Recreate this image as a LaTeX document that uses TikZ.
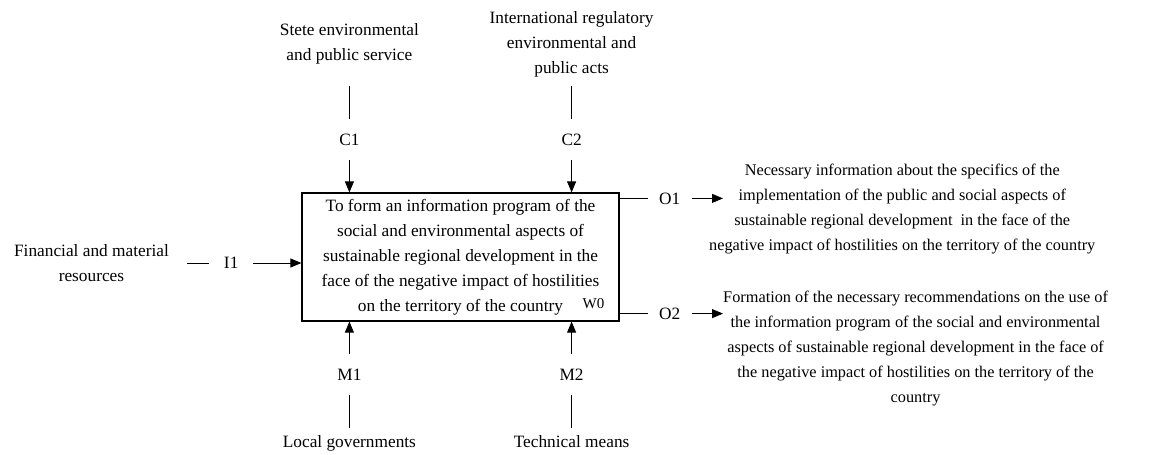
\documentclass[tikz,border=0pt]{standalone}
\usepackage{fontspec}
\setmainfont{Liberation Serif}
\usepackage{tikz}
\usetikzlibrary{arrows.meta,positioning,calc}

\begin{document}
\begin{tikzpicture}[
    x=1pt, y=-1pt,
    font=\fontsize{17.3}{25}\selectfont,
    func/.style={rectangle, draw, line width=1.2pt, minimum width=317pt, minimum height=128pt, align=center, inner sep=0pt},
    txt/.style={align=center, inner sep=0pt},
    outtxt/.style={txt, font=\fontsize{16.3}{25}\selectfont},
    vlbl/.style={inner sep=0pt, minimum height=41pt},
    hlbl/.style={inner sep=0pt, minimum width=44pt},
    line/.style={line width=0.8pt},
    arrow/.style={-{Triangle[length=11pt,width=9pt]}, line width=0.8pt}
]
    \useasboundingbox (0,0) rectangle (1149,455);

    % Function block
    \node[func] (main) at (460.5,257) {To form an information program of the\\social and environmental aspects of\\sustainable regional development in the\\face of the negative impact of hostilities\\on the territory of the country};
    \node[inner sep=0pt, font=\fontsize{15}{18}\selectfont, above left=13pt and 15pt of main.south east] (w0) {W0};

    % Controls
    \node[vlbl, above=32pt of main.north west, xshift=48pt] (c1) {C1};
    \node[vlbl, above=32pt of main.north east, xshift=-48pt] (c2) {C2};
    \node[txt, above=55pt of c1] (stete) {Stete environmental\\and public service};
    \node[txt, above=42pt of c2] (intl) {International regulatory\\environmental and\\public acts};

    % Mechanisms
    \node[vlbl, below=32pt of main.south west, xshift=48pt] (m1) {M1};
    \node[vlbl, below=32pt of main.south east, xshift=-48pt] (m2) {M2};
    \node[txt, below=40pt of m1] (local) {Local governments};
    \node[txt, below=40pt of m2] (techn) {Technical means};

    % Input
    \node[hlbl, left=48pt of main.west, yshift=-6pt] (i1) {I1};
    \node[txt, left=40pt of i1] (fin) {Financial and material\\resources};

    % Outputs
    \node[hlbl, right=28pt of main.north east, yshift=-6pt] (o1) {O1};
    \node[hlbl, right=28pt of main.south east, yshift=8pt] (o2) {O2};
    \node[outtxt, right=17pt of o1, yshift=-11pt] (info) {Necessary information about the specifics of the\\implementation of the public and social aspects of\\sustainable regional development\ \ in the face of the\\negative impact of hostilities on the territory of the country};
    \node[outtxt, right=31pt of o2, yshift=-35pt] (recom) {Formation of the necessary recommendations on the use of\\the information program of the social and environmental\\aspects of sustainable regional development in the face of\\the negative impact of hostilities on the territory of the\\country};

    % Arrows
    \draw[line, shorten <=22pt] (stete) -- (c1);
    \draw[line, shorten <=9pt] (intl) -- (c2);
    \draw[arrow] (c1) -- (c1 |- main.north);
    \draw[arrow] (c2) -- (c2 |- main.north);

    \draw[arrow] (m1) -- (m1 |- main.south);
    \draw[arrow] (m2) -- (m2 |- main.south);
    \draw[line, shorten >=7pt] (m1) -- (local);
    \draw[line, shorten >=7pt] (m2) -- (techn);

    \draw[line, shorten <=18pt] (fin.east |- i1) -- (i1);
    \draw[arrow] (i1) -- (i1 -| main.west);

    \draw[line] (o1 -| main.east) -- (o1);
    \draw[line] (o2 -| main.east) -- (o2);
    \draw[arrow, shorten >=-14pt] (o1) -- (o1 -| info.west);
    \draw[arrow] (o2) -- (o2 -| recom.west);

\end{tikzpicture}
\end{document}
